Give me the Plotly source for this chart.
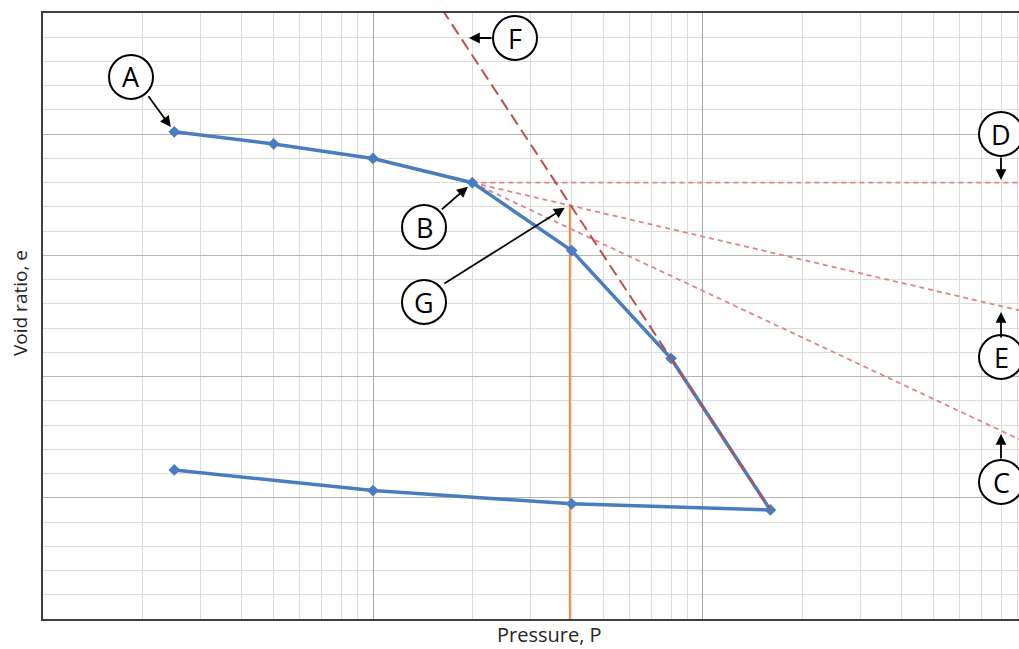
import numpy as np
import plotly.graph_objects as go

# consolidation test: loading and unloading branches
load_p = [2.5, 5, 10, 20, 40, 80, 160]
load_e = [0.902, 0.892, 0.880, 0.860, 0.804, 0.715, 0.590]
unload_p = [160, 40, 10, 2.5]
unload_e = [0.590, 0.595, 0.606, 0.623]

# Casagrande construction lines
horiz_p = [20, 1000]
horiz_e = [0.860, 0.860]
bisect_p = [20, 1000]
bisect_e = [0.860, 0.752]
tangent_p = [20, 1000]
tangent_e = [0.860, 0.643]
virgin_p = [10, 160]
virgin_e = [1.090, 0.590]
pc_p = [39.5, 39.5]
pc_e = [0.5, 0.842]

W, H = 1019, 649
L, R, T, B = 43, 0, 13, 30
PW, PH = W - L - R, H - T - B


def paper(px, py):
    return (px - L) / PW, (H - B - py) / PH


fig = go.Figure()

fig.add_trace(go.Scatter(x=pc_p, y=pc_e, mode='lines',
                         line=dict(color='#ef8f3f', width=2)))
for xs, ys in [(horiz_p, horiz_e), (bisect_p, bisect_e), (tangent_p, tangent_e)]:
    fig.add_trace(go.Scatter(x=xs, y=ys, mode='lines',
                             line=dict(color='#df8583', width=1.8, dash='5px,4px')))
fig.add_trace(go.Scatter(x=load_p + unload_p[1:], y=load_e + unload_e[1:],
                         mode='lines+markers',
                         line=dict(color='#4a7cc0', width=3.5),
                         marker=dict(symbol='diamond', size=9, color='#4a7cc0')))
fig.add_trace(go.Scatter(x=virgin_p, y=virgin_e, mode='lines',
                         line=dict(color='#b9504f', width=2, dash='12px,6px')))

# circled labels (pixel positions)
labels = {'A': (131, 77), 'F': (515, 38), 'D': (1001, 134), 'B': (424, 227),
          'G': (424, 302), 'E': (1001, 357), 'C': (1001, 482)}
rad = 22
shapes = []
annotations = []
for txt, (cx, cy) in labels.items():
    x0, y0 = paper(cx - rad, cy + rad)
    x1, y1 = paper(cx + rad, cy - rad)
    shapes.append(dict(type='circle', xref='paper', yref='paper', x0=x0, y0=y0, x1=x1, y1=y1,
                       line=dict(color='black', width=2), fillcolor='white', layer='above'))
    px_, py_ = paper(cx, cy)
    annotations.append(dict(text=txt, x=px_, y=py_, xref='paper', yref='paper', showarrow=False,
                            font=dict(family='Open Sans, sans-serif', size=27, color='black'),
                            xanchor='center', yanchor='middle'))

arrow_style = dict(showarrow=True, arrowhead=2, arrowsize=1.2, arrowwidth=1.8,
                   arrowcolor='black', text='', axref='pixel', ayref='pixel')
# arrows pointing at data points
for p, e, ax, ay in [(load_p[0], load_e[0], -27, -37),
                     (load_p[3], load_e[3], -32, 28),
                     (pc_p[1], pc_e[1], -127, 80)]:
    annotations.append(dict(x=np.log10(p), y=e, xref='x', yref='y', ax=ax, ay=ay,
                            standoff=6, **arrow_style))
# arrows pointing at lines
for hx, hy, ax, ay in [(469, 38, 24, 0), (1001, 180, 0, -24),
                       (1001, 312, 0, 27), (1001, 434, 0, 26)]:
    x, y = paper(hx, hy)
    annotations.append(dict(x=x, y=y, xref='paper', yref='paper', ax=ax, ay=ay, **arrow_style))

# axis titles
annotations.append(dict(text='Pressure, P', x=paper(549, 0)[0], y=paper(0, 634)[1],
                        xref='paper', yref='paper', showarrow=False,
                        font=dict(family='Open Sans, sans-serif', size=20, color='#262626'),
                        xanchor='center', yanchor='middle'))
annotations.append(dict(text='Void ratio, e', x=paper(20, 0)[0], y=paper(0, 303)[1],
                        xref='paper', yref='paper', showarrow=False,
                        font=dict(family='Open Sans, sans-serif', size=19, color='#262626'),
                        textangle=-90, xanchor='center', yanchor='middle'))

fig.update_layout(
    width=W, height=H,
    margin=dict(l=L, r=R, t=T, b=B),
    paper_bgcolor='white', plot_bgcolor='white',
    showlegend=False,
    shapes=shapes, annotations=annotations,
    xaxis=dict(type='log', range=[0, np.log10(907)], dtick=1,
               showticklabels=False, ticks='', zeroline=False,
               showgrid=True, gridcolor='#a9a9a9', gridwidth=1,
               minor=dict(dtick='D1', showgrid=True, gridcolor='#dcdcdc', ticks=''),
               showline=True, mirror=True, linecolor='#404040', linewidth=2),
    yaxis=dict(range=[0.5, 1.0], dtick=0.1,
               showticklabels=False, ticks='', zeroline=False,
               showgrid=True, gridcolor='#b5b5b5', gridwidth=1,
               minor=dict(dtick=0.02, showgrid=True, gridcolor='#dcdcdc', ticks=''),
               showline=True, linecolor='#404040', linewidth=2),
)

fig.write_html("out.html", config={'displayModeBar': False},
               post_script="document.body.style.margin='0px';document.body.style.overflow='hidden';")
